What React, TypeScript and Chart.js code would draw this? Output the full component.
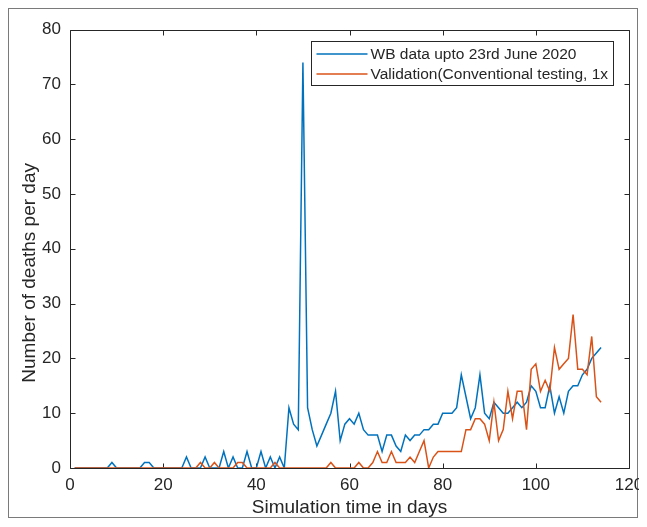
import React, { useEffect, useRef } from 'react';
import { Chart, registerables } from 'chart.js';

Chart.register(...registerables);

// Daily deaths, day 1 .. 114
const wbDeaths = [
  0, 0, 0, 0, 0, 0, 0, 0, 1, 0,
  0, 0, 0, 0, 0, 1, 1, 0, 0, 0,
  0, 0, 0, 0, 2, 0, 0, 0, 2, 0,
  0, 0, 3, 0, 2, 0, 0, 3, 0, 0,
  3, 0, 2, 0, 2, 0, 11, 8, 7, 74,
  11, 7, 4, 6, 8, 10, 14, 5, 8, 9,
  8, 10, 7, 6, 6, 6, 3, 6, 6, 4,
  3, 6, 5, 6, 6, 7, 7, 8, 8, 10,
  10, 10, 11, 17, 13, 9, 11, 17, 10, 9,
  12, 11, 10, 10, 11, 12, 11, 12, 15, 14,
  11, 11, 15, 10, 13, 10, 14, 15, 15, 17,
  18, 20, 21, 22,
];

const validation = [
  0, 0, 0, 0, 0, 0, 0, 0, 0, 0,
  0, 0, 0, 0, 0, 0, 0, 0, 0, 0,
  0, 0, 0, 0, 0, 0, 0, 1, 0, 0,
  1, 0, 0, 0, 0, 1, 1, 0, 0, 0,
  0, 0, 0, 1, 0, 0, 0, 0, 0, 0,
  0, 0, 0, 0, 0, 1, 0, 0, 0, 0,
  0, 1, 0, 0, 1, 3, 1, 1, 3, 1,
  1, 1, 2, 1, 3, 5, 0, 2, 3, 3,
  3, 3, 3, 3, 7, 7, 9, 9, 8, 5,
  12, 5, 7, 14, 9, 14, 14, 7, 18, 19,
  14, 16, 14, 22, 18, 19, 20, 28, 18, 18,
  17, 24, 13, 12,
];

const firstDay = 1;
const xTickValues = [0, 20, 40, 60, 80, 100, 120];
const yTickValues = [0, 10, 20, 30, 40, 50, 60, 70, 80];
const seriesLabels = ['WB data upto 23rd June 2020', 'Validation(Conventional testing, 1x'];
const seriesColors = ['#0072BD', '#D95319'];
const xTitle = 'Simulation time in days';
const yTitle = 'Number of deaths per day';

const FONT = '"Liberation Sans", Arial, Helvetica, sans-serif';
const AXIS_COLOR = '#262626';

const toPoints = (vals: number[]) => vals.map((v, i) => ({ x: firstDay + i, y: v }));

const frameAndBox = {
  id: 'frameAndBox',
  beforeDraw(chart: any) {
    const { ctx, width, height } = chart;
    ctx.save();
    ctx.fillStyle = '#ffffff';
    ctx.fillRect(0, 0, width, height);
    ctx.strokeStyle = '#7a7a7a';
    ctx.lineWidth = 1;
    ctx.strokeRect(0.5, 0.5, width - 2, height - 2);
    ctx.restore();
  },
  beforeDatasetsDraw(chart: any) {
    const { ctx, chartArea } = chart;
    const xs = chart.scales.x;
    const ys = chart.scales.y;
    const L = Math.round(chartArea.left) + 0.5;
    const R = Math.round(chartArea.right) + 0.5;
    const T = Math.round(chartArea.top) + 0.5;
    const B = Math.round(chartArea.bottom) + 0.5;
    const tl = 5;
    ctx.save();
    ctx.strokeStyle = AXIS_COLOR;
    ctx.lineWidth = 1;
    ctx.beginPath();
    ctx.rect(L, T, R - L, B - T);
    for (const v of xTickValues) {
      const p = Math.round(xs.getPixelForValue(v)) + 0.5;
      ctx.moveTo(p, B);
      ctx.lineTo(p, B - tl);
      ctx.moveTo(p, T);
      ctx.lineTo(p, T + tl);
    }
    for (const v of yTickValues) {
      const p = Math.round(ys.getPixelForValue(v)) + 0.5;
      ctx.moveTo(L, p);
      ctx.lineTo(L + tl, p);
      ctx.moveTo(R, p);
      ctx.lineTo(R - tl, p);
    }
    ctx.stroke();
    // y axis title
    ctx.fillStyle = AXIS_COLOR;
    ctx.font = `19px ${FONT}`;
    ctx.textAlign = 'center';
    ctx.textBaseline = 'middle';
    ctx.translate(22, chartArea.top + (chartArea.bottom - chartArea.top) * 0.555);
    ctx.rotate(-Math.PI / 2);
    ctx.fillText(yTitle, 0, 0);
    ctx.restore();
  },
  afterDatasetsDraw(chart: any) {
    const { ctx, chartArea } = chart;
    const bx = Math.round(chartArea.left + 241) + 0.5;
    const by = Math.round(chartArea.top + 11) + 0.5;
    const bw = 302;
    const bh = 44;
    ctx.save();
    ctx.fillStyle = '#ffffff';
    ctx.fillRect(bx, by, bw, bh);
    ctx.strokeStyle = AXIS_COLOR;
    ctx.lineWidth = 1;
    ctx.strokeRect(bx, by, bw, bh);
    ctx.font = `15.5px ${FONT}`;
    ctx.textBaseline = 'middle';
    ctx.textAlign = 'left';
    seriesLabels.forEach((lab, i) => {
      const cy = by + 12.5 + i * 20;
      ctx.strokeStyle = seriesColors[i];
      ctx.lineWidth = 1.5;
      ctx.beginPath();
      ctx.moveTo(bx + 5, cy);
      ctx.lineTo(bx + 56, cy);
      ctx.stroke();
      ctx.fillStyle = AXIS_COLOR;
      ctx.fillText(lab, bx + 59, cy + 0.5);
    });
    ctx.restore();
  },
};

export default function App() {
  const ref = useRef<HTMLCanvasElement | null>(null);

  useEffect(() => {
    if (!ref.current) return;
    const chart = new Chart(ref.current, {
      type: 'line',
      data: {
        datasets: [
          {
            label: seriesLabels[0],
            data: toPoints(wbDeaths),
            borderColor: seriesColors[0],
            backgroundColor: seriesColors[0],
            borderWidth: 1.5,
            pointRadius: 0,
            tension: 0,
            fill: false,
            order: 1,
          },
          {
            label: seriesLabels[1],
            data: toPoints(validation),
            borderColor: seriesColors[1],
            backgroundColor: seriesColors[1],
            borderWidth: 1.5,
            pointRadius: 0,
            tension: 0,
            fill: false,
            order: 0,
          },
        ],
      },
      options: {
        responsive: false,
        maintainAspectRatio: false,
        animation: false,
        devicePixelRatio: 1,
        layout: { padding: { top: 21.5, right: 10, bottom: 0, left: 0 } },
        plugins: {
          legend: { display: false },
          tooltip: { enabled: false },
        },
        scales: {
          x: {
            type: 'linear',
            min: 0,
            max: 120,
            afterBuildTicks: (s: any) => {
              s.ticks = xTickValues.map((v) => ({ value: v }));
            },
            afterFit: (s: any) => {
              s.height = 51;
              s.paddingLeft = 0;
              s.paddingRight = 0;
            },
            grid: { display: false, drawTicks: false },
            border: { display: false },
            ticks: {
              color: AXIS_COLOR,
              font: { family: FONT, size: 17 },
              padding: 7,
              maxRotation: 0,
              autoSkip: false,
            },
            title: {
              display: true,
              text: xTitle,
              color: AXIS_COLOR,
              font: { family: FONT, size: 19 },
              padding: { top: 0, bottom: 0 },
            },
          },
          y: {
            type: 'linear',
            min: 0,
            max: 80,
            afterBuildTicks: (s: any) => {
              s.ticks = yTickValues.map((v) => ({ value: v }));
            },
            afterFit: (s: any) => {
              s.width = 62;
              s.paddingTop = 0;
              s.paddingBottom = 0;
            },
            grid: { display: false, drawTicks: false },
            border: { display: false },
            ticks: {
              color: AXIS_COLOR,
              font: { family: FONT, size: 17 },
              padding: 9,
              autoSkip: false,
            },
          },
        },
      },
      plugins: [frameAndBox],
    });
    return () => chart.destroy();
  }, []);

  return (
    <div style={{ position: 'relative', width: 631, height: 511 }}>
      <canvas ref={ref} width={631} height={511} style={{ display: 'block', width: 631, height: 511 }} />
    </div>
  );
}
